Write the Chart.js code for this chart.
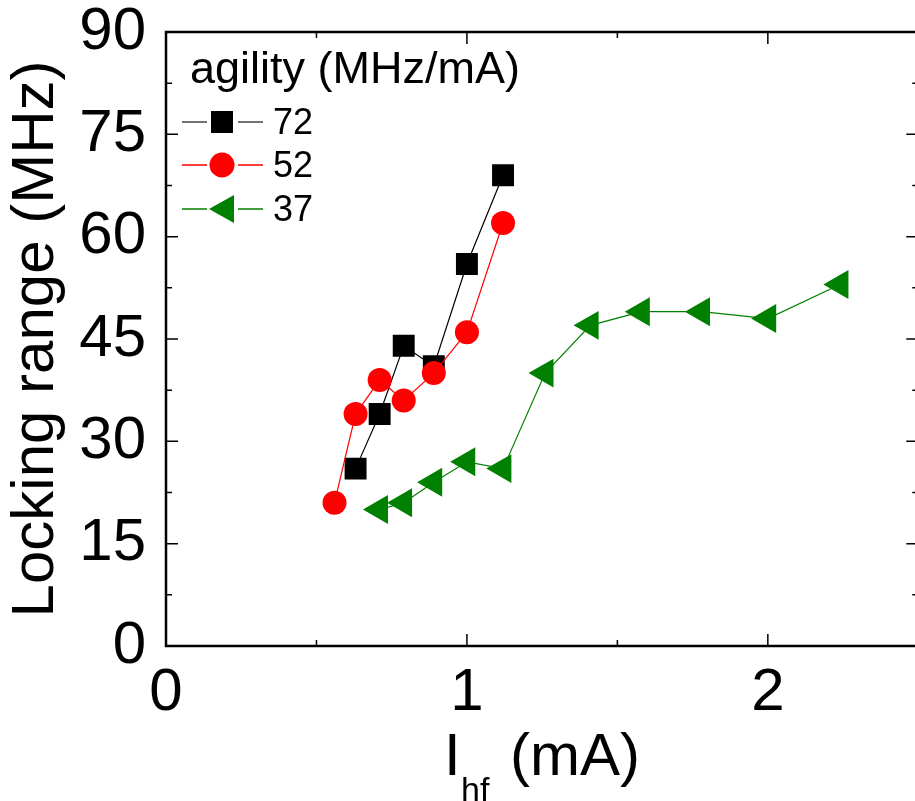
<!DOCTYPE html>
<html>
<head>
<meta charset="utf-8">
<script src="https://cdn.jsdelivr.net/npm/chart.js@4"></script>
<style>
  html, body { margin: 0; padding: 0; background: #fff; overflow: hidden; }
  #canvasWrapper { width: 935px; height: 801px; }
</style>
</head>
<body>
<div id="canvasWrapper"><canvas id="dataChart"></canvas></div>
<script>
// data
let current72 = [0.63, 0.71, 0.79, 0.89, 1.00, 1.12];
let range72 = [26, 34, 44, 41, 56, 69];

let current52 = [0.56, 0.63, 0.71, 0.79, 0.89, 1.00, 1.12];
let range52 = [21, 34, 39, 36, 40, 46, 62];

let current37 = [0.71, 0.79, 0.89, 1.00, 1.12, 1.26, 1.41, 1.58, 1.78, 2.00, 2.24];
let range37 = [20, 21, 24, 27, 26, 40, 47, 49, 49, 48, 53];

let legendLabels = ['72', '52', '37'];
let legendTitle = 'agility (MHz/mA)';
let xTicks = [0, 1, 2];
let yTicks = [0, 15, 30, 45, 60, 75, 90];

const FONT = '"Liberation Sans", Arial, sans-serif';
const GREEN = '#008000';

function toPoints(xs, ys) {
    return xs.map((x, i) => ({x: x, y: ys[i]}));
}

// frame with inward ticks on all four sides, legend, x title with subscript
let framePlugin = {
    id: 'frame',
    afterDraw(chart) {
        let ctx = chart.ctx;
        let a = chart.chartArea;
        let xs = chart.scales.x;
        let ys = chart.scales.y;
        ctx.save();
        ctx.strokeStyle = '#000';
        ctx.lineWidth = 2.5;
        ctx.strokeRect(a.left, a.top, a.right - a.left, a.bottom - a.top);

        ctx.lineWidth = 1.5;
        ctx.beginPath();
        for (let v = 0; v <= 2.5001; v += 0.5) {
            let px = xs.getPixelForValue(v);
            let len = xTicks.includes(Math.round(v * 10) / 10) ? 12 : 6;
            ctx.moveTo(px, a.bottom); ctx.lineTo(px, a.bottom - len);
            ctx.moveTo(px, a.top); ctx.lineTo(px, a.top + len);
        }
        for (let v = 0; v <= 90.001; v += 7.5) {
            let py = ys.getPixelForValue(v);
            let len = yTicks.includes(v) ? 12 : 6;
            ctx.moveTo(a.left, py); ctx.lineTo(a.left + len, py);
            ctx.moveTo(a.right, py); ctx.lineTo(a.right - len, py);
        }
        ctx.stroke();

        // legend
        ctx.fillStyle = '#000';
        ctx.textBaseline = 'alphabetic';
        ctx.textAlign = 'left';
        ctx.font = '45px ' + FONT;
        ctx.fillText(legendTitle, 190, 83);

        let rows = [122, 165, 209];
        let colors = ['#444', 'red', GREEN];
        let fills = ['#000', 'red', GREEN];
        rows.forEach((ry, i) => {
            ctx.strokeStyle = colors[i];
            ctx.lineWidth = 1.3;
            ctx.beginPath();
            ctx.moveTo(182, ry); ctx.lineTo(207, ry);
            ctx.moveTo(238, ry); ctx.lineTo(263, ry);
            ctx.stroke();
            ctx.fillStyle = fills[i];
            ctx.beginPath();
            if (i === 0) {
                ctx.rect(222 - 11, ry - 11, 22, 22);
            } else if (i === 1) {
                ctx.arc(222, ry, 12.5, 0, Math.PI * 2);
            } else {
                ctx.moveTo(209, ry);
                ctx.lineTo(234, ry - 14);
                ctx.lineTo(234, ry + 14);
                ctx.closePath();
            }
            ctx.fill();
            ctx.fillStyle = '#000';
            ctx.font = '36px ' + FONT;
            ctx.fillText(legendLabels[i], 273, ry + 12);
        });

        // x axis title: I_hf (mA)
        ctx.font = '60px ' + FONT;
        ctx.fillText('I', 444, 775);
        ctx.font = '34px ' + FONT;
        ctx.fillText('hf', 461, 801);
        ctx.font = '60px ' + FONT;
        ctx.fillText('(mA)', 510, 775);
        ctx.restore();
    }
};

let ctx = document.getElementById('dataChart').getContext('2d');

let myChart = new Chart(ctx, {
    type: 'scatter',
    data: {
        datasets: [{
            label: legendLabels[0],
            data: toPoints(current72, range72),
            showLine: true,
            borderColor: '#000',
            borderWidth: 1.2,
            backgroundColor: '#000',
            pointStyle: 'rect',
            pointRadius: 15.5,
            pointBorderWidth: 0,
            order: 2
        }, {
            label: legendLabels[1],
            data: toPoints(current52, range52),
            showLine: true,
            borderColor: 'red',
            borderWidth: 1.2,
            backgroundColor: 'red',
            pointStyle: 'circle',
            pointRadius: 12,
            pointBorderWidth: 0,
            order: 1
        }, {
            label: legendLabels[2],
            data: toPoints(current37, range37),
            showLine: true,
            borderColor: GREEN,
            borderWidth: 1.2,
            backgroundColor: GREEN,
            pointStyle: 'triangle',
            pointRotation: -90,
            pointRadius: 16.7,
            pointBorderWidth: 0,
            order: 3
        }]
    },
    options: {
        responsive: true,
        maintainAspectRatio: false,
        animation: false,
        layout: {
            padding: {top: 32, right: 0, bottom: 86, left: 0}
        },
        plugins: {
            legend: {display: false},
            tooltip: {enabled: false}
        },
        scales: {
            x: {
                type: 'linear',
                min: 0,
                max: 2.5,
                grid: {display: false},
                border: {display: false},
                afterFit: scale => { scale.height = 69; scale.paddingLeft = 0; scale.paddingRight = 0; },
                ticks: {
                    stepSize: 0.5,
                    autoSkip: false,
                    maxRotation: 0,
                    padding: 9,
                    color: '#000',
                    font: {family: FONT, size: 60, lineHeight: 1},
                    callback: v => xTicks.includes(v) ? String(v) : ''
                }
            },
            y: {
                min: 0,
                max: 90,
                grid: {display: false},
                border: {display: false},
                afterFit: scale => { scale.width = 166; scale.paddingTop = 0; scale.paddingBottom = 0; },
                title: {
                    display: true,
                    text: 'Locking range (MHz)',
                    color: '#000',
                    font: {family: FONT, size: 60},
                    padding: {top: 0, bottom: 9}
                },
                ticks: {
                    stepSize: 7.5,
                    autoSkip: false,
                    padding: 12,
                    color: '#000',
                    font: {family: FONT, size: 60, lineHeight: 1},
                    callback: v => yTicks.includes(v) ? String(v) : ''
                }
            }
        }
    },
    plugins: [framePlugin]
});
</script>
</body>
</html>
